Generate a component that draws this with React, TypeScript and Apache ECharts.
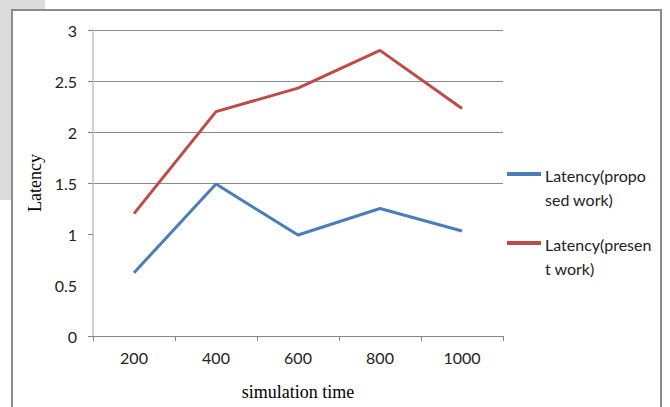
import React, { useEffect, useRef } from "react";
import * as echarts from "echarts";

const categories = ["200", "400", "600", "800", "1000"];
const proposedWork = [0.62, 1.49, 0.99, 1.25, 1.03];
const presentWork = [1.2, 2.2, 2.43, 2.8, 2.23];
const seriesNames = ["Latency(proposed work)", "Latency(present work)"];
const legendLines = [
  ["Latency(propo", "sed work)"],
  ["Latency(presen", "t work)"],
];
const colors = ["#4a7ebb", "#be4b48"];

export default function App() {
  const ref = useRef<HTMLDivElement>(null);
  useEffect(() => {
    if (!ref.current) return;
    const chart = echarts.init(ref.current, null, { renderer: "svg" });
    const labelFont = "Lato, 'Open Sans', sans-serif";
    const serif = "'Liberation Serif', 'DejaVu Serif', serif";
    const legendGraphics: any[] = [];
    const legendY = [174, 243];
    legendLines.forEach((lines, i) => {
      legendGraphics.push({
        type: "line",
        shape: { x1: 507, y1: legendY[i], x2: 541, y2: legendY[i] },
        style: { stroke: colors[i], lineWidth: 4 },
      });
      lines.forEach((t, j) => {
        legendGraphics.push({
          type: "text",
          x: 545,
          y: legendY[i] + 1 + j * 24,
          style: {
            text: t,
            fill: "#222",
            font: `16px ${labelFont}`,
            textVerticalAlign: "middle",
            textAlign: "left",
          },
        });
      });
    });
    chart.setOption({
      animation: false,
      backgroundColor: "#ffffff",
      grid: { left: 93, top: 30, width: 410, height: 306, outerBoundsMode: "none", containLabel: false },
      xAxis: {
        type: "category",
        data: categories,
        boundaryGap: true,
        axisLine: { show: true, lineStyle: { color: "#868686", width: 1 } },
        axisTick: { show: true, length: 5, lineStyle: { color: "#868686" } },
        axisLabel: {
          color: "#222",
          fontFamily: labelFont,
          fontSize: 16,
          margin: 13,
        },
        splitLine: { show: false },
        name: "simulation time",
        nameLocation: "middle",
        nameGap: 47,
        nameTextStyle: { fontFamily: serif, fontSize: 18, color: "#000" },
      },
      yAxis: {
        type: "value",
        min: 0,
        max: 3,
        interval: 0.5,
        axisLine: { show: true, lineStyle: { color: "#d0d0d0", width: 2 } },
        axisTick: {
          show: true,
          length: 5,
          customValues: [0, 1, 1.5, 2, 2.5, 3],
          lineStyle: { color: "#868686" },
        },
        axisLabel: {
          color: "#222",
          fontFamily: labelFont,
          fontSize: 16,
          margin: 16,
        },
        splitLine: {
          show: true,
          lineStyle: {
            color: ["transparent", "transparent", "#8a8a8a", "#8a8a8a", "#8a8a8a", "#8a8a8a", "#8a8a8a"],
            width: 1,
          },
        },
        name: "Latency",
        nameLocation: "middle",
        nameGap: 44,
        nameTextStyle: { fontFamily: serif, fontSize: 18, color: "#000" },
      },
      series: [
        {
          name: seriesNames[0],
          type: "line",
          data: proposedWork,
          symbol: "none",
          lineStyle: { color: colors[0], width: 3 },
          itemStyle: { color: colors[0] },
        },
        {
          name: seriesNames[1],
          type: "line",
          data: presentWork,
          symbol: "none",
          lineStyle: { color: colors[1], width: 3 },
          itemStyle: { color: colors[1] },
        },
      ],
      graphic: [
        { type: "rect", shape: { x: 0, y: 0, width: 12, height: 200 }, style: { fill: "#dcdcdc" }, z: -1 },
        { type: "rect", shape: { x: 0, y: 0, width: 45, height: 10 }, style: { fill: "#dcdcdc" }, z: -1 },
        {
          type: "rect",
          shape: { x: 12, y: 10, width: 649, height: 400 },
          style: { fill: "none", stroke: "#8c8c8c", lineWidth: 2 },
        },
        ...legendGraphics,
      ],
    });
    return () => chart.dispose();
  }, []);
  return (
    <div
      ref={ref}
      style={{ position: "fixed", left: 0, top: 0, width: 670, height: 407 }}
    />
  );
}
